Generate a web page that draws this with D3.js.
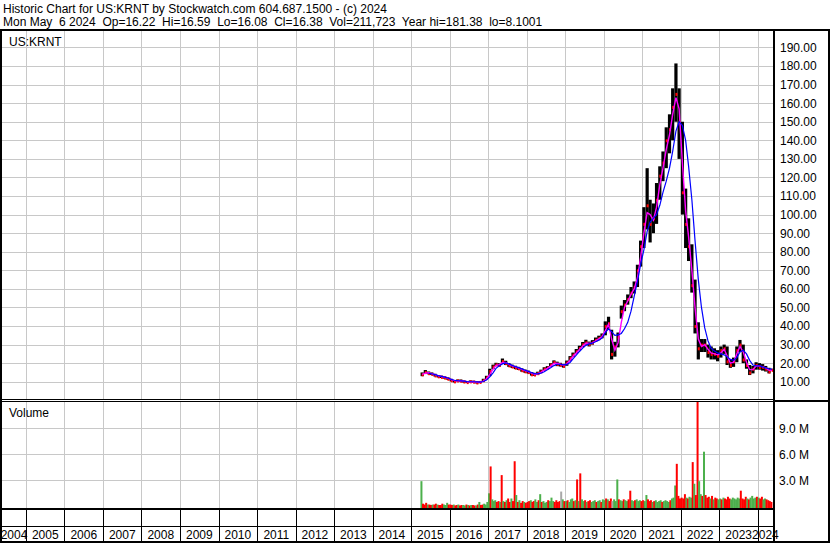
<!DOCTYPE html>
<html>
<head>
<meta charset="utf-8">
<script src="https://cdn.jsdelivr.net/npm/d3@7"></script>
<style>
  body { margin: 0; background: #fff; }
  svg text { font-family: "Liberation Sans", Arial, sans-serif; font-size: 12px; fill: #000; }
</style>
</head>
<body>
<div class="chart"></div>
<script>
// monthly price data, Apr 2015 .. May 2024
var closes = [
  14.0, 15.2, 14.6, 14.2, 13.4, 12.9, 12.6, 12.2, 11.6,
  10.8, 10.2, 10.7, 10.5, 10.1, 9.8, 10.2, 10.0, 9.6, 9.9, 10.8, 12.3,
  15.8, 18.2, 19.3, 19.0, 21.2, 20.0, 18.8, 18.2, 17.6, 17.2, 16.2, 15.6,
  15.2, 14.0, 13.9, 14.6, 15.6, 17.0, 17.6, 19.2, 20.6, 19.6, 19.2, 18.6,
  20.4, 22.8, 24.6, 26.4, 28.2, 30.2, 31.2, 30.4, 31.2, 32.6, 33.6, 34.8,
  40.0, 41.5, 25.0, 29.0, 34.0, 48.0, 51.5, 54.5, 58.0, 61.0, 70.0, 83.0,
  95, 105, 95, 98, 108, 121, 128, 140, 146, 158, 165, 150,
  112, 95, 83, 62, 40, 28, 30, 30, 26, 25, 25, 24,
  27, 28, 21, 19, 21, 27, 30, 22, 19, 15, 17, 19,
  18, 18, 17, 15.5, 16.4
];
var highs = [
  15.0, 16.3, 15.5, 15.0, 14.3, 13.6, 13.3, 12.9, 12.4,
  11.6, 10.9, 11.2, 11.2, 10.7, 10.4, 10.7, 10.6, 10.3, 10.4, 11.6, 13.2,
  17.0, 19.2, 20.2, 20.0, 22.5, 21.3, 20.0, 19.2, 18.6, 18.0, 17.2, 16.6,
  16.0, 15.2, 14.8, 15.4, 16.5, 17.8, 18.4, 20.0, 21.5, 20.8, 20.2, 19.6,
  21.4, 23.8, 25.7, 27.6, 29.4, 31.4, 32.6, 31.6, 32.4, 33.8, 34.8, 36.0,
  42.5, 45.0, 38.0, 31.5, 36.5, 51.0, 54.0, 57.0, 61.0, 64.0, 73.0, 86.0,
  104, 125, 108, 106, 117, 126, 134, 147, 154, 168, 181.4, 168,
  150, 114, 98, 84, 65, 42, 33, 33, 30, 29, 28, 27,
  29, 30, 29, 22, 23, 29, 32.5, 30, 22, 19, 18.5, 20.5,
  20, 19.5, 18.5, 17.5, 17
];
var lows = [
  13.0, 14.2, 14.0, 13.6, 12.8, 12.3, 12.0, 11.6, 11.0,
  10.2, 9.6, 10.1, 10.0, 9.5, 9.3, 9.6, 9.5, 9.0, 9.3, 9.9, 11.4,
  13.0, 16.8, 18.5, 18.2, 19.8, 19.0, 18.0, 17.4, 16.8, 16.4, 15.4, 14.8,
  14.4, 13.3, 13.2, 13.8, 14.8, 16.2, 16.8, 18.2, 19.6, 18.4, 18.2, 17.6,
  18.6, 21.2, 23.4, 25.2, 27.0, 28.6, 30.0, 29.0, 30.0, 31.4, 32.4, 33.4,
  35.0, 38.0, 22.0, 23.5, 28.5, 44.0, 48.0, 51.5, 55.0, 57.5, 61.0, 72.0,
  82, 92, 85, 90, 95, 108, 118, 125, 133, 140, 150, 130,
  100, 82, 75, 58, 36, 22, 26, 26, 23, 22, 22, 21,
  23, 25, 19, 17.5, 18, 20.5, 26, 20, 17, 13.6, 14.5, 16.5,
  16.5, 16, 15.5, 14.5, 15.8
];
// short moving average (magenta) and long moving average (blue), read per month
var maShort = [
  14.0, 14.6, 14.8, 14.4, 13.8, 13.2, 12.8, 12.4, 11.9,
  11.2, 10.6, 10.5, 10.6, 10.3, 10.0, 10.0, 10.1, 9.8, 9.8, 10.3, 11.5,
  14.0, 16.8, 18.8, 19.2, 20.4, 20.4, 19.4, 18.6, 18.0, 17.4, 16.7, 16.0,
  15.4, 14.6, 14.0, 14.3, 15.1, 16.3, 17.2, 18.4, 19.8, 20.0, 19.4, 18.9,
  19.6, 21.6, 23.7, 25.5, 27.3, 29.2, 30.7, 30.8, 30.9, 32.0, 33.1, 34.2,
  37.5, 41.0, 33.0, 27.0, 31.0, 42.0, 50.0, 53.5, 57.0, 60.0, 66.0, 77.0,
  90, 101, 100, 97, 104, 116, 125, 135, 143, 154, 163, 157,
  128, 102, 88, 70, 50, 33, 29, 30, 27.5, 25.5, 25, 24.5,
  25.5, 27.5, 24, 20, 20.5, 25, 29, 26, 20.5, 16.5, 16.5, 18.5,
  18.5, 18, 17.5, 16.2, 16.2
];
var maLong = [
  null, null, 14.5, 14.3, 13.8, 13.3, 12.9, 12.5, 12.0,
  11.3, 10.8, 10.6, 10.5, 10.3, 10.1, 10.0, 10.0, 9.9, 9.8, 10.1, 10.9,
  12.6, 14.8, 17.2, 18.6, 19.6, 20.1, 19.6, 18.8, 18.1, 17.6, 16.9, 16.2,
  15.6, 14.9, 14.4, 14.2, 14.6, 15.4, 16.4, 17.5, 18.7, 19.4, 19.4, 19.1,
  19.3, 20.4, 22.3, 24.3, 26.3, 28.1, 29.6, 30.4, 30.8, 31.5, 32.4, 33.5,
  36.5, 38.5, 37.0, 35.0, 35.2, 36.0, 38.5, 42.0, 48.0, 56.0, 64.0, 73.0,
  81, 91, 96, 98, 100, 105, 112, 118, 125, 134, 145, 150,
  148, 140, 126, 108, 86, 65, 50, 39, 32, 28, 26.5, 25.5,
  25, 24.5, 23.5, 22, 21.5, 23, 26, 27, 25, 21.5, 19, 18.5,
  18.5, 18, 17.5, 17, 16.8
];
// half-monthly volume in millions, Apr 2015 .. early May 2024
var volumes = [
  2.9,0.3, 0.2,0.4, 0.2,0.2, 0.15,0.2, 0.2,0.3, 0.2,0.15, 0.15,0.3, 0.2,0.15, 0.4,0.2,
  0.2,0.15, 0.2,0.1, 0.15,0.2, 0.1,0.15, 0.15,0.1, 0.2,0.15, 0.1,0.15, 0.15,0.1, 0.1,0.2, 0.5,0.15, 0.2,0.3, 0.2,0.5,
  1.5,4.6, 0.8,0.6, 0.7,0.5, 0.6,0.5, 3.6,0.6, 0.5,0.7, 0.9,0.5, 0.9,0.6, 5.2,1.3, 0.5,0.7, 0.4,0.6, 0.5,0.4,
  0.5,0.6, 0.7,0.5, 0.6,0.8, 0.5,0.7, 1.4,0.5, 0.6,0.4, 0.5,0.7, 0.6,1.0, 0.6,0.5, 0.7,0.5, 0.6,1.7, 0.8,0.6,
  0.6,0.7, 0.5,0.8, 0.9,0.6, 0.7,3.1, 0.6,3.8, 0.8,0.6, 0.7,0.5, 0.6,0.7, 0.5,0.6, 0.7,0.5, 0.6,0.7, 0.5,0.8,
  0.7,0.9, 0.8,0.6, 0.9,0.6, 0.8,0.6, 3.1,0.8, 0.7,0.6, 0.8,0.7, 0.6,0.8, 1.8,0.7, 0.6,0.7, 0.8,0.6, 0.7,0.6,
  0.7,0.6, 1.3,0.8, 0.6,0.7, 0.5,0.6, 0.7,0.5, 0.6,0.7, 0.5,0.6, 0.7,0.6, 0.5,0.7, 0.9,1.0, 2.4,4.9, 1.2,0.9,
  1.0,0.9, 1.4,1.0, 0.9,1.1, 1.0,5.1, 2.6,1.3, 12.5,2.9, 1.4,1.2, 6.3,1.3, 1.0,1.1, 0.9,1.2, 0.8,1.0, 0.9,0.8,
  0.9,0.8, 1.0,0.9, 0.8,1.1, 0.9,0.8, 1.0,0.9, 0.8,1.0, 0.9,1.8, 0.9,0.8, 1.1,0.9, 0.8,1.0, 1.2,0.9, 1.0,1.1,
  1.0,0.9, 1.1,0.8, 0.9,0.8, 0.7,0.6, 0.5
];
// g = up, r = down, n = unchanged
var volDirs = (
  "grrrgrrgrrgrrrgggr" +
  "rrgrrgrrggrgrgrrgrgrrggg" +
  "grgggrrgrgrgrrgrrgrgrrgr" +
  "rrgrrggrgrgggrgggrrrrngr" +
  "grgggrgrgrggrgrrgggrggrg" +
  "grgrrngggrggrggrrggrgggr" +
  "rggrrrgrggggrggggrgggrrr" +
  "rrrgrggrgrrggrgrrrgrgrrg" +
  "grgrrrrggggggrrrrgrggggr" +
  "grrggrrrr"
).split("");

var priceTicks = d3.range(10, 200, 10);
var volTicks = [3, 6, 9];
var years = d3.range(2004, 2025);

var width = 830;
var height = 543;
var plotL = 2, plotR = 773;
var priceTop = 31, priceBot = 399;
var volTop = 402, volBot = 508;

var x = d3.scaleTime()
    .domain([new Date(2005, 0, 1), new Date(2024, 0, 1)])
    .range([26, 757.9]);
var y = d3.scaleLinear().domain([0, 200]).range([400.3, 28.9]);
var yv = d3.scaleLinear().domain([0, 12]).range([506.3, 402.3]);

var monthDate = function(i) { return new Date(2015, 3 + i, 15); };
var halfDate = function(j) { return new Date(2015, 3 + Math.floor(j / 2), j % 2 ? 23 : 8); };

var months = closes.map(function(c, i) {
    return { date: monthDate(i), cl: c, hi: highs[i], lo: lows[i], s: maShort[i], l: maLong[i] };
});
var vols = volumes.map(function(v, j) {
    return { date: halfDate(j), v: v, dir: volDirs[j] };
});

var svg = d3.select(".chart").append("svg")
    .attr("width", width)
    .attr("height", height);

svg.append("rect").attr("width", width).attr("height", height).attr("fill", "#fff");

var defs = svg.append("defs");
defs.append("clipPath").attr("id", "clipPrice").append("rect")
    .attr("x", plotL).attr("y", priceTop).attr("width", plotR - plotL).attr("height", priceBot - priceTop);
defs.append("clipPath").attr("id", "clipVol").append("rect")
    .attr("x", plotL).attr("y", volTop).attr("width", plotR - plotL).attr("height", volBot - volTop);

// header
svg.append("text").attr("x", 3).attr("y", 12.5)
    .text("Historic Chart for US:KRNT by Stockwatch.com 604.687.1500 - (c) 2024");
svg.append("text").attr("x", 3).attr("y", 26).style("white-space", "pre")
    .text("Mon May  6 2024  Op=16.22  Hi=16.59  Lo=16.08  Cl=16.38  Vol=211,723  Year hi=181.38  lo=8.1001");

// grid
var grid = svg.append("g").attr("stroke", "#c8c8c8").attr("stroke-width", 1).attr("shape-rendering", "crispEdges");
var yearStarts = years.slice(1).map(function(yr) { return new Date(yr, 0, 1); });
grid.selectAll(".vgp").data(yearStarts).enter().append("line")
    .attr("x1", function(d) { return Math.round(x(d)) + 0.5; })
    .attr("x2", function(d) { return Math.round(x(d)) + 0.5; })
    .attr("y1", priceTop).attr("y2", priceBot);
grid.selectAll(".vgv").data(yearStarts).enter().append("line")
    .attr("x1", function(d) { return Math.round(x(d)) + 0.5; })
    .attr("x2", function(d) { return Math.round(x(d)) + 0.5; })
    .attr("y1", volTop).attr("y2", volBot);
grid.selectAll(".hgp").data(priceTicks).enter().append("line")
    .attr("x1", plotL).attr("x2", plotR)
    .attr("y1", function(d) { return Math.round(y(d)) + 0.5; })
    .attr("y2", function(d) { return Math.round(y(d)) + 0.5; });
grid.selectAll(".hgv").data(volTicks).enter().append("line")
    .attr("x1", plotL).attr("x2", plotR)
    .attr("y1", function(d) { return Math.round(yv(d)) + 0.5; })
    .attr("y2", function(d) { return Math.round(yv(d)) + 0.5; });

// volume bars
var volColor = { g: "#4cb04c", r: "#ff0000", n: "#a8a8a8" };
svg.append("g").attr("clip-path", "url(#clipVol)")
    .selectAll("rect").data(vols).enter().append("rect")
    .attr("x", function(d) { return x(d.date) - 1; })
    .attr("width", 2)
    .attr("y", function(d) { return yv(d.v); })
    .attr("height", function(d) { return volBot - yv(d.v); })
    .attr("fill", function(d) { return volColor[d.dir]; });

// price bars
var pg = svg.append("g").attr("clip-path", "url(#clipPrice)");
pg.selectAll(".bar").data(months).enter().append("rect")
    .attr("x", function(d) { return x(d.date) - 1.6; })
    .attr("width", 3.2)
    .attr("y", function(d) { return y(d.hi); })
    .attr("height", function(d) { return y(d.lo) - y(d.hi); })
    .attr("fill", "#000");
pg.selectAll(".cl").data(months).enter().append("rect")
    .attr("x", function(d) { return x(d.date) - 0.5; })
    .attr("width", 2)
    .attr("y", function(d) { return y(d.cl) - 1; })
    .attr("height", 3)
    .attr("fill", "#ff0000");

pg.append("path").datum(months)
    .attr("fill", "none").attr("stroke", "#ff00ff").attr("stroke-width", 1.4)
    .attr("d", d3.line().x(function(d) { return x(d.date); }).y(function(d) { return y(d.s); }));
pg.append("path").datum(months.filter(function(d) { return d.l != null; }))
    .attr("fill", "none").attr("stroke", "#0000ff").attr("stroke-width", 1.2)
    .attr("d", d3.line().x(function(d) { return x(d.date); }).y(function(d) { return y(d.l); }));

// panel labels
svg.append("text").attr("x", 9).attr("y", 46).text("US:KRNT");
svg.append("text").attr("x", 9).attr("y", 417).text("Volume");

// right axes
var pAxis = svg.append("g").attr("transform", "translate(775,0)")
    .call(d3.axisRight(y).tickValues(priceTicks).tickFormat(d3.format(".2f")).tickSize(0).tickPadding(5));
var vAxis = svg.append("g").attr("transform", "translate(775,0)")
    .call(d3.axisRight(yv).tickValues(volTicks).tickFormat(function(d) { return d.toFixed(1) + " M"; }).tickSize(0).tickPadding(4));
[pAxis, vAxis].forEach(function(a) {
    a.select(".domain").remove();
    a.selectAll("text").attr("font-family", null).attr("font-size", null).attr("fill", "#000");
    a.attr("font-family", null).attr("font-size", null);
});

// year band
var band = svg.append("g");
band.selectAll("line").data(yearStarts).enter().append("line")
    .attr("x1", function(d) { return Math.round(x(d)) + 0.5; })
    .attr("x2", function(d) { return Math.round(x(d)) + 0.5; })
    .attr("y1", volBot).attr("y2", 541)
    .attr("stroke", "#000").attr("shape-rendering", "crispEdges");
band.selectAll("text").data(years).enter().append("text")
    .attr("x", function(yr) {
        var a = Math.max(x(new Date(yr, 0, 1)), plotL);
        var b = Math.min(x(new Date(yr + 1, 0, 1)), plotR);
        return (a + b) / 2;
    })
    .attr("y", 539)
    .attr("text-anchor", "middle")
    .text(function(yr) { return yr; });

// frame lines
var frame = svg.append("g").attr("fill", "#000").attr("shape-rendering", "crispEdges");
frame.append("rect").attr("x", 0).attr("y", 29).attr("width", width).attr("height", 2);
frame.append("rect").attr("x", 0).attr("y", 29).attr("width", 2).attr("height", 514);
frame.append("rect").attr("x", plotR).attr("y", 29).attr("width", 2).attr("height", 514);
frame.append("rect").attr("x", 828).attr("y", 29).attr("width", 2).attr("height", 514);
frame.append("rect").attr("x", 0).attr("y", 399).attr("width", plotR).attr("height", 1);
frame.append("rect").attr("x", 0).attr("y", 401).attr("width", plotR).attr("height", 1);
frame.append("rect").attr("x", plotR).attr("y", 400).attr("width", width - plotR).attr("height", 2);
frame.append("rect").attr("x", 0).attr("y", volBot).attr("width", plotR).attr("height", 2);
frame.append("rect").attr("x", 0).attr("y", 526).attr("width", plotR).attr("height", 1);
frame.append("rect").attr("x", 0).attr("y", 541).attr("width", width).attr("height", 2);
</script>
</body>
</html>
